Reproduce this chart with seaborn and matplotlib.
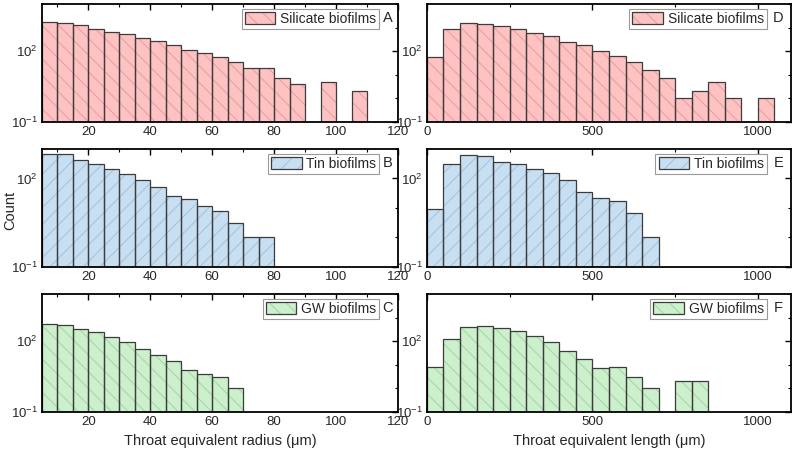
import numpy as np
import pandas as pd
import seaborn as sns
import matplotlib.pyplot as plt
from matplotlib.patches import Patch
from matplotlib.legend_handler import HandlerTuple
from matplotlib.ticker import FixedLocator, FuncFormatter, NullFormatter

sns.set_style("white")
plt.rcParams['font.family'] = ['Liberation Sans', 'DejaVu Sans']
plt.rcParams['mathtext.default'] = 'regular'
plt.rcParams['hatch.linewidth'] = 0.7

#  Bin left edges (um) and counts (0 = empty bin)
radius_left = [5, 10, 15, 20, 25, 30, 35, 40, 45, 50, 55, 60, 65, 70, 75,
               80, 85, 90, 95, 100, 105]
silicate_radius = [1780, 1620, 1290, 910, 660, 540, 380, 270, 185, 117, 82,
                   59, 35, 20, 20, 7, 4, 0, 5, 0, 2]
tin_radius = [690, 675, 433, 308, 203, 140, 88, 50, 26, 20, 12, 8, 3, 1, 1,
              0, 0, 0, 0, 0, 0]
gw_radius = [540, 475, 330, 248, 152, 91, 48, 26, 15, 6, 4, 3, 1, 0, 0,
             0, 0, 0, 0, 0, 0]

length_left = [0, 50, 100, 150, 200, 250, 300, 350, 400, 450, 500, 550, 600,
               650, 700, 750, 800, 850, 900, 950, 1000]
silicate_length = [56, 875, 1620, 1475, 1175, 850, 595, 445, 256, 185, 100,
                   62, 35, 16, 7, 1, 2, 5, 1, 0, 1]
tin_length = [9, 300, 610, 575, 360, 300, 208, 148, 88, 34, 21, 17, 7, 1,
              0, 0, 0, 0, 0, 0, 0]
gw_length = [8, 125, 390, 460, 355, 265, 168, 97, 37, 18, 7, 8, 3, 1, 0, 2,
             2, 0, 0, 0, 0]

# fill colour, hatch colour, hatch, legend text
silicate_style = ('#ffc2c2', '#eb9a9a', '\\\\', 'Silicate biofilms')
tin_style = ('#c8dff2', '#9fc2e2', '//', 'Tin biofilms')
gw_style = ('#ccefcc', '#a2d6a2', '\\\\', 'GW biofilms')
edge = '#3c3c3c'


def draw_panel(ax, left, counts, width, style, letter, ytop):
    fill, hatchc, hatch, label = style
    df = pd.DataFrame({'x': np.array(left) + width / 2, 'n': counts})
    df = df[df['n'] > 0]
    bins = [left[0] + k * width for k in range(len(left) + 1)]
    ax.set_yscale('log')
    # hatched fill, then dark outline on top
    sns.histplot(data=df, x='x', weights='n', bins=bins, ax=ax, color=fill,
                 edgecolor=hatchc, linewidth=0, hatch=hatch, alpha=1)
    sns.histplot(data=df, x='x', weights='n', bins=bins, ax=ax, fill=False,
                 color=edge, linewidth=0.9)
    for p in list(ax.patches):
        if p.get_height() <= 0:
            p.remove()
    ax.set_ylim(0.1, ytop)
    ax.yaxis.set_major_locator(FixedLocator([0.1, 100, 1e5]))
    ax.yaxis.set_minor_locator(FixedLocator([1, 10, 1000, 1e4]))
    ax.yaxis.set_major_formatter(FuncFormatter(
        lambda v, pos: r'$10^{%d}$' % round(np.log10(v))))
    ax.yaxis.set_minor_formatter(NullFormatter())
    ax.set_ylabel('')
    ax.set_xlabel('')
    ax.tick_params(which='both', direction='in', top=True, right=True,
                   labelsize=9.5, color='black', pad=3)
    ax.tick_params(which='major', length=4, width=1)
    ax.tick_params(which='minor', length=2.5, width=0.8)
    for s in ax.spines.values():
        s.set_color('black')
        s.set_linewidth(1.3)
    h = (Patch(facecolor=fill, edgecolor=hatchc, linewidth=0, hatch=hatch),
         Patch(facecolor='none', edgecolor=edge, linewidth=0.9))
    return h, label


fig, axes = plt.subplots(3, 2, figsize=(7.95, 4.53), dpi=100)

panels = [
    (axes[0, 0], radius_left, silicate_radius, 5, silicate_style, 'A', 1e4),
    (axes[1, 0], radius_left, tin_radius, 5, tin_style, 'B', 1e3),
    (axes[2, 0], radius_left, gw_radius, 5, gw_style, 'C', 1e4),
    (axes[0, 1], length_left, silicate_length, 50, silicate_style, 'D', 1e4),
    (axes[1, 1], length_left, tin_length, 50, tin_style, 'E', 1e3),
    (axes[2, 1], length_left, gw_length, 50, gw_style, 'F', 1e4),
]

row_bottom = [0.7307, 0.4106, 0.0905]
for i, (ax, left, counts, width, style, letter, ytop) in enumerate(panels):
    row = i % 3
    col = i // 3
    if col == 0:
        ax.set_position([0.0528, row_bottom[row], 0.4478, 0.2605])
    else:
        ax.set_position([0.537, row_bottom[row], 0.458, 0.2605])
    h, label = draw_panel(ax, left, counts, width, style, letter, ytop)
    if col == 0:
        ax.set_xlim(5, 120)
        ax.xaxis.set_major_locator(FixedLocator([20, 40, 60, 80, 100, 120]))
        ax.xaxis.set_minor_locator(FixedLocator([10, 30, 50, 70, 90, 110]))
        leg_x, let_x = 0.948, 0.986
    else:
        ax.set_xlim(0, 1100)
        ax.xaxis.set_major_locator(FixedLocator([0, 500, 1000]))
        ax.xaxis.set_minor_locator(FixedLocator([250, 750]))
        leg_x, let_x = 0.934, 0.978
    leg = ax.legend([h], [label], handler_map={tuple: HandlerTuple(ndivide=1, pad=0)},
                    loc='upper right', bbox_to_anchor=(leg_x, 0.96),
                    borderaxespad=0, fontsize=10, fancybox=False,
                    edgecolor='#9a9a9a', framealpha=1, handlelength=2.2,
                    handleheight=1.0, borderpad=0.22, handletextpad=0.35)
    leg.get_frame().set_linewidth(0.8)
    ax.text(let_x, 0.94, letter, transform=ax.transAxes, ha='right',
            va='top', fontsize=10.5)

axes[2, 0].set_xlabel('Throat equivalent radius (\u03bcm)', fontsize=10.5, labelpad=4)
axes[2, 1].set_xlabel('Throat equivalent length (\u03bcm)', fontsize=10.5, labelpad=4)
fig.text(0.013, 0.536, 'Count', rotation=90, ha='center', va='center',
         fontsize=10.5)

fig.savefig('out.png', dpi=100)
